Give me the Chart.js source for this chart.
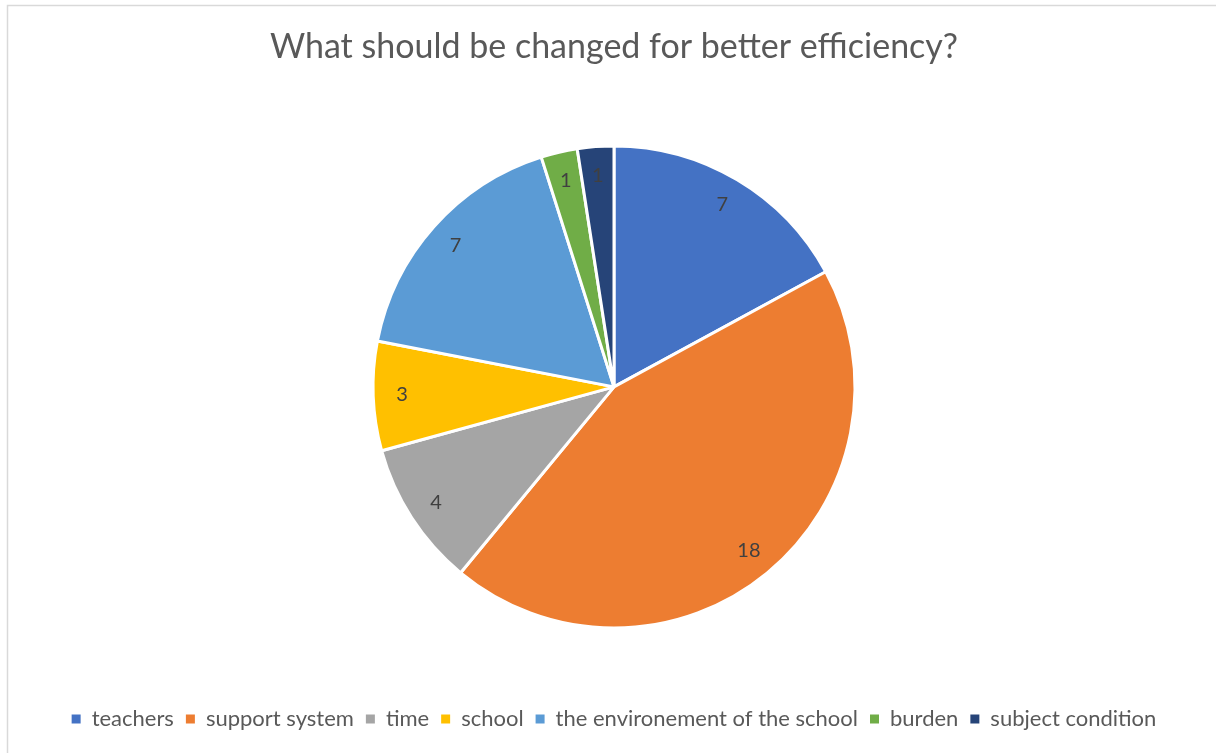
<!DOCTYPE html>
<html>
<head>
<meta charset="utf-8">
<script src="https://cdn.jsdelivr.net/npm/chart.js@4"></script>
<style>
html,body{margin:0;padding:0;background:#fff;}
#wrap{width:1216px;height:753px;position:relative;}
</style>
</head>
<body>
<div id="wrap"><canvas id="c" width="1216" height="753"></canvas></div>
<script>
const categories = ["teachers", "support system", "time", "school", "the environement of the school", "burden", "subject condition"];
const values = [7, 18, 4, 3, 7, 1, 1];
const colors = ["#4472C4", "#ED7D31", "#A5A5A5", "#FFC000", "#5B9BD5", "#70AD47", "#264478"];
const titleText = "What should be changed for better efficiency?";

const bgPlugin = {
  id: 'bg',
  beforeDraw(chart) {
    const ctx = chart.ctx;
    ctx.save();
    ctx.fillStyle = '#fff';
    ctx.fillRect(0, 0, chart.width, chart.height);
    ctx.strokeStyle = '#d9d9d9';
    ctx.lineWidth = 1.5;
    ctx.strokeRect(7.5, 5.5, chart.width + 20, chart.height + 20);
    ctx.restore();
  }
};

const labelPlugin = {
  id: 'vlabels',
  afterDatasetsDraw(chart) {
    const ctx = chart.ctx;
    const meta = chart.getDatasetMeta(0);
    ctx.save();
    ctx.font = '20px Lato, "Open Sans", sans-serif';
    ctx.fillStyle = '#404040';
    ctx.textAlign = 'center';
    ctx.textBaseline = 'middle';
    meta.data.forEach((arc, i) => {
      const p = arc.getProps(['startAngle', 'endAngle', 'outerRadius', 'x', 'y'], true);
      const a = (p.startAngle + p.endAngle) / 2;
      const r = p.outerRadius * 0.88;
      ctx.fillText(String(values[i]), p.x + Math.cos(a) * r, p.y + Math.sin(a) * r);
    });
    ctx.restore();
  }
};

new Chart(document.getElementById('c'), {
  type: 'pie',
  data: {
    labels: categories,
    datasets: [{
      data: values,
      backgroundColor: colors,
      borderColor: '#ffffff',
      borderWidth: 3
    }]
  },
  options: {
    responsive: false,
    animation: false,
    radius: 241,
    layout: { padding: { top: 0, bottom: 13, left: 12, right: 0 } },
    plugins: {
      title: {
        display: true,
        text: titleText,
        color: '#595959',
        font: { family: 'Lato, "Open Sans", sans-serif', size: 34, weight: 'normal' },
        padding: { top: 27, bottom: 10 }
      },
      legend: {
        position: 'bottom',
        labels: {
          color: '#595959',
          font: { family: 'Lato, "Open Sans", sans-serif', size: 22 },
          boxWidth: 9,
          boxHeight: 9,
          padding: 12,
          generateLabels(chart) {
            const items = Chart.overrides.pie.plugins.legend.labels.generateLabels(chart);
            items.forEach(it => { it.lineWidth = 0; it.strokeStyle = it.fillStyle; });
            return items;
          }
        }
      },
      tooltip: { enabled: false }
    }
  },
  plugins: [bgPlugin, labelPlugin]
});
</script>
</body>
</html>
